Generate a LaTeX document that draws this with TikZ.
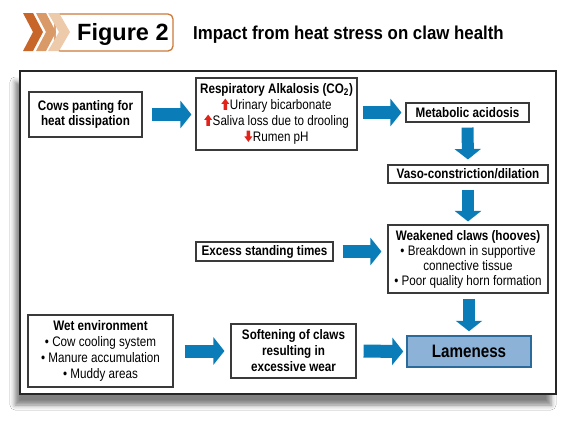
\documentclass[tikz,border=0pt]{standalone}
\usepackage{fontspec}
\setmainfont{Liberation Sans}
\newfontfamily\cf[FakeStretch=0.845]{Liberation Sans}
\newfontfamily\tf[FakeStretch=0.9]{Liberation Sans}
\newfontfamily\ff{Liberation Sans}
\usetikzlibrary{arrows.meta,shadows.blur}
\definecolor{arrowblue}{HTML}{0A7DB8}
\definecolor{chevA}{HTML}{C8662A}
\definecolor{chevB}{HTML}{DA9A68}
\definecolor{chevC}{HTML}{EDCAA9}
\definecolor{figorange}{HTML}{CC7A3A}
\definecolor{boxline}{HTML}{3A3A3A}
\definecolor{lamefill}{HTML}{8DB2D8}
\definecolor{lameline}{HTML}{2B6B9B}
\definecolor{redarr}{HTML}{E2231A}
\newcommand{\uparr}{\tikz[baseline=0pt,x=1pt,y=1pt]\fill[redarr] (2.2,-0.3) -- (2.2,5.6) -- (0,5.6) -- (4,11) -- (8,5.6) -- (5.8,5.6) -- (5.8,-0.3) -- cycle;\hspace{0.6pt}}
\newcommand{\downarr}{\tikz[baseline=0pt,x=1pt,y=1pt]\fill[redarr] (2.2,11) -- (2.2,5.1) -- (0,5.1) -- (4,-0.3) -- (8,5.1) -- (5.8,5.1) -- (5.8,11) -- cycle;\hspace{0.6pt}}
\tikzset{
  box/.style={draw=boxline, line width=1.1pt, fill=white, inner sep=0pt, align=center, text=black},
  bodytext/.style={font=\cf\fontsize{13.8}{#1}\selectfont},
  barrow/.style={draw=arrowblue, line width=13pt, -{Triangle[length=11pt,width=27pt]}},
  varrow/.style={draw=arrowblue, line width=12pt, -{Triangle[length=10.5pt,width=26pt]}},
}
\begin{document}
\begin{tikzpicture}[x=1pt,y=-1pt]
\fill[white] (0,0) rectangle (575,421);
\useasboundingbox (0,0) rectangle (575,421);
% header
\draw[draw=figorange, line width=1.3pt, rounded corners=5pt, fill=white] (55,14) rectangle (173,51);
\fill[chevA] (23,13) -- (33,13) -- (43,32) -- (33,51) -- (23,51) -- (33,32) -- cycle;
\fill[chevB] (36,13) -- (46,13) -- (56,32) -- (46,51) -- (36,51) -- (46,32) -- cycle;
\fill[chevC] (48,13) -- (59,13) -- (70,32) -- (59,51) -- (48,51) -- (59,32) -- cycle;
\node[anchor=base west, inner sep=0pt, font=\ff\bfseries\fontsize{23.5}{26}\selectfont] (fig) at (77,40) {Figure 2};
\node[anchor=base west, inner sep=0pt, font=\tf\bfseries\fontsize{18.7}{21}\selectfont] (title) at (193,39) {Impact from heat stress on claw health};
% frame
\draw[line width=2.5pt, draw=black!85, fill=white, blur shadow={shadow xshift=-5pt, shadow yshift=-11pt, shadow blur radius=5pt, shadow opacity=50}] (20,71) rectangle (556,394);
% boxes
\node[box, bodytext=15.7, minimum width=113pt, minimum height=45pt] (cows) at (85.5,114.5) {\bfseries Cows panting for\\ \bfseries heat dissipation};
\node[box, bodytext=16, minimum width=161pt, minimum height=72pt] (resp) at (276.5,114) {\bfseries Respiratory Alkalosis (CO\textsubscript{2})\\ \uparr Urinary bicarbonate\\ \uparr Saliva loss due to drooling\\ \downarr Rumen pH};
\node[box, bodytext=16, minimum width=123pt, minimum height=19pt] (metab) at (467.5,112.5) {\bfseries Metabolic acidosis};
\node[box, bodytext=16, minimum width=160pt, minimum height=18pt] (vaso) at (468,174) {\bfseries Vaso-constriction/dilation};
\node[box, bodytext=15, minimum width=160pt, minimum height=68pt] (weak) at (468,259) {\bfseries Weakened claws (hooves)\\ \textbullet\ Breakdown in supportive\\ connective tissue\\ \textbullet\ Poor quality horn formation};
\node[box, bodytext=16, minimum width=137pt, minimum height=19pt] (excess) at (264.5,251.5) {\bfseries Excess standing times};
\node[box, bodytext=16, minimum width=145pt, minimum height=72pt] (wet) at (100.5,351) {\bfseries Wet environment\\ \textbullet\ Cow cooling system\\ \textbullet\ Manure accumulation\\ \textbullet\ Muddy areas};
\node[box, bodytext=16, minimum width=125pt, minimum height=54pt] (soft) at (293.5,351) {\bfseries Softening of claws\\ \bfseries resulting in\\ \bfseries excessive wear};
\node[draw=lameline, fill=lamefill, line width=1.5pt, inner sep=0pt, minimum width=124pt, minimum height=31pt, font=\cf\bfseries\fontsize{18}{20}\selectfont] (lame) at (469,351.5) {Lameness};
% arrows
\draw[barrow, shorten <=9pt, shorten >=4pt] (cows.east) -- (cows.east -| resp.west);
\draw[barrow, shorten <=5pt, shorten >=4pt] (metab.west -| resp.east) -- (metab.west);
\draw[varrow, shorten <=5pt, shorten >=5pt] (metab.south) -- (vaso.north);
\draw[varrow, shorten <=6pt, shorten >=3pt] (vaso.south) -- (weak.north);
\draw[barrow, shorten <=9pt, shorten >=6pt] (excess.east) -- (excess.east -| weak.west);
\draw[varrow, shorten <=5pt, shorten >=4pt] (lame.north |- weak.south) -- (lame.north);
\draw[barrow, shorten <=11pt, shorten >=6pt] (wet.east) -- (soft.west);
\draw[barrow, shorten <=7pt, shorten >=3pt] (soft.east) -- (lame.west);
\end{tikzpicture}
\end{document}
